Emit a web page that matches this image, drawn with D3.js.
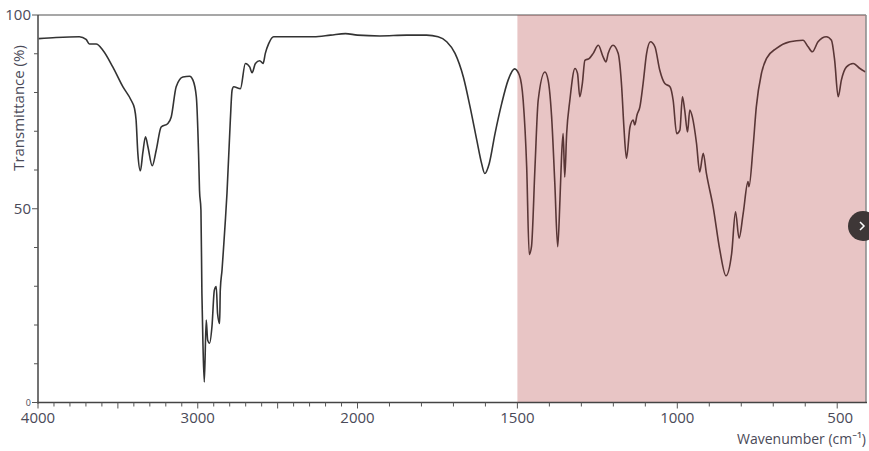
<!DOCTYPE html>
<html><head><meta charset="utf-8">
<script src="https://cdn.jsdelivr.net/npm/d3@7"></script>
<style>
html,body{margin:0;padding:0;background:#fff;}
svg{display:block;font-family:"Open Sans","Noto Sans",sans-serif;}
</style></head>
<body><svg id="c" width="869" height="451"></svg>
<script>
// Spectrum: wavenumber (cm^-1) and transmittance (%)
const wavenumber = [3996,3887,3741,3699,3678,3636,3594,3532,3469,3417,3396,3386,3375,3359,3344,3327,3312,3285,3260,3229,3187,3166,3135,3093,3051,3030,3009,2995,2989,2980,2974,2967,2959,2947,2938,2926,2911,2896,2884,2876,2863,2859,2848,2838,2827,2817,2796,2785,2775,2733,2702,2675,2660,2639,2612,2591,2577,2556,2525,2399,2274,2169,2075,2000,
1930,1846,1784,1748,1721,1695,1669,1648,1627,1612,1602,1588,1570,1549,1529,1509,1494,1482,1471,1463,1456,1445,1435,1414,1404,1393,1383,1374,1367,1362,1357,1352,1346,1336,1320,1312,1305,1297,1289,1275,1263,1247,1232,1223,1216,1201,1185,1174,1167,1159,1148,1138,1133,1126,1117,1107,1096,1084,1070,1055,1039,1023,1013,1002,992,984,977,968,961,953,940,930,919,909,888,867,848,830,818,807,794,779,776,763,753,737,721,690,648,607,591,578,560,534,518,508,497,487,471,450,429,412];
const transmittance = [93.9,94.2,94.4,93.7,92.5,92.5,90.9,86.6,81.5,78.0,75.9,72.9,64.3,59.8,64.4,68.6,66.0,61.1,65.1,71.1,72.0,73.7,81.5,84.0,84.2,83.2,78.9,64.4,54.8,49.6,28.2,14.4,5.3,21.3,16.1,15.3,19.6,29.0,29.9,23.0,20.4,29.0,34.2,40.2,47.1,54.0,72.9,80.6,81.5,81.0,87.5,86.6,85.1,87.5,88.2,87.5,90.1,92.6,94.4,94.4,94.4,94.8,95.2,94.8,
94.6,94.8,94.8,94.4,93.1,90.1,84.0,76.3,67.7,61.7,59.1,61.7,69.4,77.2,83.2,86.1,84.5,78.0,60.8,38.2,40.2,60.8,78.0,85.3,83.2,73.7,56.5,40.2,52.2,63.4,69.4,58.2,69.4,78.0,86.2,84.9,78.9,82.3,88.3,88.8,90.1,92.2,89.2,87.9,90.1,92.2,90.1,81.5,71.1,63.0,71.1,72.9,71.6,74.2,76.3,82.3,90.1,93.1,91.8,85.8,82.3,81.5,78.0,69.4,70.3,78.9,75.5,69.8,75.5,73.7,66.9,59.5,64.3,59.1,50.5,39.3,32.7,38.5,49.2,42.4,48.8,57.0,55.7,66.0,76.3,84.9,88.8,91.4,93.1,93.5,91.8,90.5,93.1,94.4,93.5,88.3,78.9,83.2,86.6,87.5,86.2,85.3];
const xTickLabels = [4000,3000,2000,1500,1000,500];
const yTickLabels = [100,50,0];
const highlightRange = [1500,410];

const svg = d3.select("#c");
const x = d3.scaleLinear().domain([4000,2000,410]).range([38,357.5,866]);
const y = d3.scaleLinear().domain([0,100]).range([402.5,15]);

// frame top line
svg.append("line").attr("x1",38).attr("x2",866).attr("y1",y(100)).attr("y2",y(100))
  .attr("stroke","#8a8a8a").attr("stroke-width",1.5);

// spectrum
const line = d3.line().x((d,i)=>x(wavenumber[i])).y((d,i)=>y(transmittance[i])).curve(d3.curveMonotoneX);
svg.append("path").datum(transmittance).attr("d",line).attr("fill","none")
  .attr("stroke","#333").attr("stroke-width",1.6).attr("stroke-linejoin","round");

// highlight overlay
svg.append("rect").attr("x",x(highlightRange[0])).attr("y",y(100))
  .attr("width",x(highlightRange[1])-x(highlightRange[0])).attr("height",y(0)-y(100))
  .attr("fill","rgb(180,62,62)").attr("fill-opacity",0.3);
svg.append("line").attr("x1",866).attr("x2",866).attr("y1",y(100)).attr("y2",y(0))
  .attr("stroke","#8a8a8a").attr("stroke-width",1.5);

// x axis ticks
const minorX = d3.range(4000,405,-100);
const gx = svg.append("g");
gx.append("line").attr("x1",37).attr("x2",867).attr("y1",y(0)).attr("y2",y(0)).attr("stroke","#444").attr("stroke-width",1.5);
gx.selectAll("line.t").data(minorX).join("line").attr("class","t")
  .attr("x1",d=>x(d)).attr("x2",d=>x(d)).attr("y1",y(0)).attr("y2",d=>y(0)+(d%500===0?6:4))
  .attr("stroke","#555").attr("stroke-width",1);
gx.selectAll("text").data(xTickLabels).join("text")
  .attr("x",d=>x(d)+(d===500?3:0)).attr("y",423).attr("text-anchor","middle")
  .attr("font-size",15).attr("fill","#4a4a58").text(d=>d);
svg.append("text").attr("x",866).attr("y",444).attr("text-anchor","end")
  .attr("font-size",14).attr("fill","#4a4a58").text("Wavenumber (cm⁻¹)");

// y axis
const gy = svg.append("g");
gy.append("line").attr("x1",38).attr("x2",38).attr("y1",y(100)).attr("y2",y(0)+1).attr("stroke","#444").attr("stroke-width",1.5);
gy.selectAll("line.t").data(d3.range(0,101,10)).join("line").attr("class","t")
  .attr("x1",38).attr("x2",d=>38-(d%50===0?6:4)).attr("y1",d=>y(d)).attr("y2",d=>y(d))
  .attr("stroke","#555").attr("stroke-width",1);
gy.selectAll("text").data(yTickLabels).join("text")
  .attr("x",31).attr("y",d=>y(d)+(d===0?3:5)).attr("text-anchor","end")
  .attr("font-size",d=>d===0?9:15).attr("fill","#4a4a58").text(d=>d);
svg.append("text").attr("transform","translate(24,108) rotate(-90)").attr("text-anchor","middle")
  .attr("font-size",15).attr("fill","#4a4a58").text("Transmittance (%)");

// nav button
svg.append("circle").attr("cx",863).attr("cy",226).attr("r",15).attr("fill","#3e3737");
svg.append("path").attr("d","M860,222 L864,226 L860,230").attr("fill","none").attr("stroke","#fff").attr("stroke-width",1.5);
</script></body></html>
